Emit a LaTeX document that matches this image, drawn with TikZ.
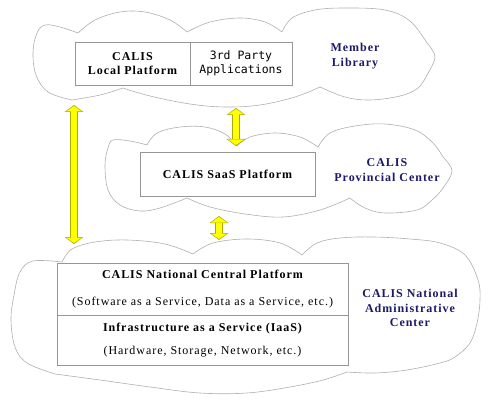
\documentclass[tikz,border=0pt]{standalone}
\usepackage{fontspec}
\setmainfont{Liberation Serif}[LetterSpace=8]
\newfontfamily\appfont{DejaVu Sans Mono}
\usepackage{xcolor}
\usetikzlibrary{positioning,arrows.meta}

\definecolor{cloudgray}{RGB}{175,175,175}
\definecolor{boxgray}{RGB}{150,150,150}
\definecolor{levelnavy}{RGB}{28,26,104}
\definecolor{arrowedge}{RGB}{170,170,0}
\definecolor{arrowfill}{RGB}{255,255,0}

\begin{document}
\begin{tikzpicture}[
    x=1pt, y=-1pt,
    node distance = 0pt,
    cloud edge/.style={draw=cloudgray, line width=0.6pt},
    platform/.style={draw=boxgray, line width=0.6pt, outer sep=0pt,
        align=center, font=\fontsize{12}{14.5}\selectfont\bfseries},
    level/.style={align=center, text=levelnavy,
        font=\fontsize{12}{14.5}\selectfont\bfseries},
    arrow rim/.style={draw=arrowedge, line width=8pt,
        {Triangle[width=19pt,length=7pt,line width=0pt]}-{Triangle[width=19pt,length=7pt,line width=0pt]}},
    arrow core/.style={draw=arrowfill, line width=6.2pt, shorten <=1pt, shorten >=1pt,
        {Triangle[width=16pt,length=5.5pt,line width=0pt]}-{Triangle[width=16pt,length=5.5pt,line width=0pt]}}]
    \useasboundingbox (0,0) rectangle (490,401);

    % CLOUDS
    % member library cloud
    \draw[cloud edge]
        plot[smooth, tension=0.6] coordinates {(72,100) (48,92) (36,75) (33,52) (37,33) (45,25) (60,27) (78,33)}
        -- plot[smooth, tension=0.6] coordinates {(78,33) (95,20) (120,12) (145,12) (170,20) (187,32)}
        -- plot[smooth, tension=0.6] coordinates {(187,32) (210,22) (240,18) (265,22) (282,32)}
        -- plot[smooth, tension=0.6] coordinates {(282,32) (292,18) (315,10) (345,8) (385,10) (410,21) (427,43)}
        -- plot[smooth, tension=0.6] coordinates {(427,43) (435,57) (427,75)}
        -- plot[smooth, tension=0.6] coordinates {(427,75) (418,88) (400,96) (370,100) (345,97) (320,87)}
        -- plot[smooth, tension=0.6] coordinates {(320,87) (295,97) (260,105) (225,107) (190,104) (150,96) (123,88)}
        -- plot[smooth, tension=0.6] coordinates {(123,88) (100,95) (72,100)} -- cycle;
    % provincial center cloud
    \draw[cloud edge]
        plot[smooth, tension=0.6] coordinates {(187,198) (160,208) (140,211) (120,205) (108,190) (105,165) (108,148) (113,140) (130,141) (147,145)}
        -- plot[smooth, tension=0.6] coordinates {(147,145) (157,133) (180,127) (205,127) (225,134) (237,146)}
        -- plot[smooth, tension=0.6] coordinates {(237,146) (250,137) (275,133) (300,137) (318,147)}
        -- plot[smooth, tension=0.6] coordinates {(318,147) (330,133) (355,126) (385,124) (415,130) (433,143) (443,157)}
        -- plot[smooth, tension=0.6] coordinates {(443,157) (452,171) (443,188) (432,200) (417,210) (385,213) (365,208) (350,198)}
        -- plot[smooth, tension=0.6] coordinates {(350,198) (320,210) (283,217) (245,214) (210,207) (187,198)} -- cycle;
    % national administrative center cloud
    \draw[cloud edge]
        plot[smooth, tension=0.6] coordinates {(55,374) (27,363) (15,347) (11,320) (14,295) (20,272) (33,261) (62,262)}
        -- plot[smooth, tension=0.6] coordinates {(62,262) (72,249) (95,242) (127,240) (165,244) (193,254)}
        -- plot[smooth, tension=0.6] coordinates {(193,254) (213,243) (247,239) (280,243) (302,255)}
        -- plot[smooth, tension=0.6] coordinates {(302,255) (317,243) (340,238) (373,237) (410,239) (440,243) (465,255) (478,280) (480,300) (477,323) (470,343) (455,357) (440,363) (407,370) (375,373) (347,372)}
        -- plot[smooth, tension=0.6] coordinates {(347,372) (323,380) (290,387) (247,393) (200,393) (150,387) (100,380) (55,374)} -- cycle;

    % NODES
    % local platform
    \node[platform, minimum width=115pt, minimum height=43pt] (local) at (132.5,63.5) {CALIS\\Local Platform};
    % third party applications
    \node[platform, minimum width=102pt, minimum height=43pt, right = of local,
        font=\fontsize{11.5}{14}\selectfont\appfont\mdseries] (apps) {3rd Party\\Applications};
    % saas platform
    \node[platform, minimum width=175pt, minimum height=44pt] (saas) at (227.5,174) {CALIS SaaS Platform};
    % national central platform
    \node[platform, minimum width=291pt, minimum height=52pt] (central) at (202.5,289)
        {CALIS National Central Platform\\[13pt]\mdseries (Software as a Service, Data as a Service, etc.)};
    % infrastructure
    \node[platform, minimum width=291pt, minimum height=50pt, below = of central] (iaas)
        {Infrastructure as a Service (IaaS)\\[8pt]\mdseries (Hardware, Storage, Network, etc.)};
    % level names
    \node[level] (member) at (355,56) {Member\\Library};
    \node[level] (provincial) at (387,170) {CALIS\\Provincial Center};
    \node[level] (national) at (410,308) {CALIS National\\Administrative\\Center};

    % ARROW ENDS
    \coordinate (localfoot) at (74,105);
    \coordinate (centralhead) at (74,244);
    \coordinate (appsfoot) at (236,108);
    \coordinate (saashead) at (236,146);
    \coordinate (saasfoot) at (219,216);
    \coordinate (centraltop) at (219,240);

    % ARROWS
    \draw[arrow rim] (localfoot)--(centralhead);
    \draw[arrow core] (localfoot)--(centralhead);
    \draw[arrow rim] (appsfoot)--(saashead);
    \draw[arrow core] (appsfoot)--(saashead);
    \draw[arrow rim] (saasfoot)--(centraltop);
    \draw[arrow core] (saasfoot)--(centraltop);
\end{tikzpicture}
\end{document}
